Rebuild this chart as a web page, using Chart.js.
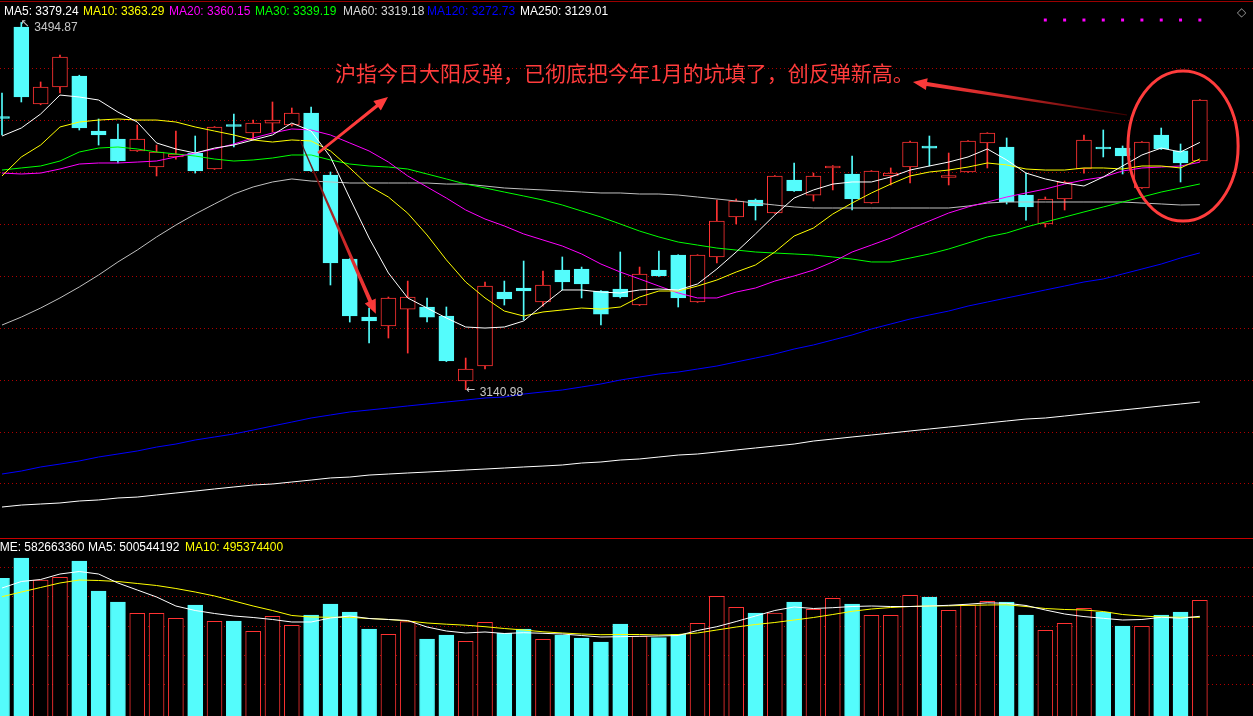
<!DOCTYPE html>
<html>
<head>
<meta charset="utf-8">
<title>沪指 日K</title>
<script src="https://cdn.jsdelivr.net/npm/chart.js@4.4.1/dist/chart.umd.min.js"></script>
<style>
    body { margin: 0; background: #000; overflow: hidden; }
    #wrap { position: relative; width: 1253px; height: 716px; background: #000; overflow: hidden;
            font-family: "Liberation Sans", Arial, sans-serif; font-size: 12px; }
    #priceChart { position: absolute; left: 0; top: 0; }
    #volChart { position: absolute; left: 0; top: 539px; }
    .topline { position: absolute; left: 0; top: 1px; width: 1253px; height: 1px; background: #9a0000; }
    .sep { position: absolute; left: 0; top: 538px; width: 1253px; height: 1px; background: #c80000; }
    .lg { position: absolute; line-height: 14px; white-space: nowrap; }
    .diamond { position: absolute; left: 1237px; top: 5px; color: #9a9a9a; font: 12px "DejaVu Sans", sans-serif; }
</style>
</head>
<body>
<div id="wrap">
    <canvas id="priceChart" width="1253" height="537"></canvas>
    <canvas id="volChart" width="1253" height="177"></canvas>
    <div class="topline"></div>
    <div class="sep"></div>
    <div class="diamond">◇</div>
    <div id="legends"></div>
</div>
<script>
// 沪指日K：63根K线，价格与均线值从图上读出

const opens = [
    3403.2, 3490.5, 3416.3, 3432.6, 3443.2, 3390.2, 3382.5, 3371.0, 3355.5, 3365.2,
    3369.0, 3353.6, 3395.5, 3388.3, 3397.9, 3396.0, 3407.6, 3347.8, 3266.9, 3210.9,
    3202.3, 3218.6, 3220.6, 3211.9, 3149.3, 3163.7, 3235.0, 3238.9, 3225.4, 3256.2,
    3257.2, 3236.0, 3237.9, 3222.5, 3256.2, 3270.7, 3225.4, 3268.8, 3307.3, 3323.7,
    3311.2, 3343.0, 3328.5, 3354.6, 3348.8, 3320.8, 3346.9, 3355.5, 3375.8, 3345.4,
    3350.7, 3378.7, 3374.8, 3328.5, 3300.6, 3324.7, 3353.6, 3374.8, 3373.8, 3335.3,
    3386.4, 3371.0, 3361.3
];
const highs = [
    3426.9, 3494.87, 3437.5, 3463.5, 3444.0, 3401.8, 3397.0, 3396.0, 3376.7, 3390.2,
    3385.4, 3394.5, 3406.6, 3400.8, 3418.2, 3412.4, 3413.4, 3350.7, 3267.2, 3219.6,
    3230.2, 3245.6, 3229.3, 3220.6, 3171.4, 3244.7, 3245.6, 3264.9, 3255.3, 3268.8,
    3259.1, 3236.5, 3273.6, 3259.1, 3274.6, 3271.0, 3271.0, 3323.7, 3324.7, 3324.7,
    3347.3, 3359.4, 3349.7, 3356.9, 3366.1, 3352.1, 3354.6, 3380.6, 3385.4, 3369.0,
    3381.0, 3388.6, 3383.5, 3349.7, 3326.6, 3342.0, 3386.4, 3391.2, 3375.8, 3380.0,
    3393.1, 3377.7, 3420.5
];
const lows = [
    3386.4, 3418.2, 3415.5, 3426.9, 3391.2, 3376.7, 3359.4, 3370.5, 3346.9, 3363.2,
    3349.7, 3353.2, 3374.8, 3381.6, 3389.3, 3395.0, 3351.2, 3241.8, 3206.1, 3185.9,
    3190.7, 3176.2, 3206.1, 3168.0, 3140.98, 3160.8, 3222.5, 3208.1, 3221.5, 3237.0,
    3229.3, 3203.2, 3229.3, 3222.0, 3250.0, 3220.6, 3225.0, 3263.0, 3300.6, 3304.4,
    3310.8, 3332.0, 3322.8, 3333.4, 3314.1, 3320.4, 3338.2, 3340.1, 3356.5, 3338.2,
    3350.3, 3354.6, 3319.9, 3304.4, 3297.7, 3314.1, 3349.7, 3365.2, 3348.8, 3334.9,
    3372.5, 3341.1, 3360.9
];
const closes = [
    3402.3, 3423.0, 3432.6, 3461.6, 3393.1, 3386.4, 3361.3, 3382.5, 3370.0, 3368.1,
    3351.7, 3394.1, 3394.6, 3397.9, 3400.8, 3407.6, 3351.7, 3263.0, 3211.9, 3207.1,
    3229.3, 3230.2, 3210.9, 3168.5, 3160.8, 3240.8, 3228.3, 3236.0, 3241.8, 3244.7,
    3242.8, 3213.8, 3230.2, 3252.4, 3250.5, 3229.3, 3270.7, 3303.5, 3322.8, 3317.9,
    3346.9, 3332.4, 3346.9, 3356.5, 3324.7, 3351.7, 3349.7, 3379.6, 3373.8, 3346.4,
    3380.6, 3388.3, 3321.8, 3317.0, 3324.7, 3341.1, 3381.6, 3372.9, 3366.1, 3379.6,
    3372.9, 3359.4, 3420.1
];

// 均线
const ma5 = [
    3385.4, 3393.1, 3406.6, 3424.9, 3423.0, 3420.1, 3408.5, 3398.9, 3378.7, 3372.9,
    3369.0, 3373.8, 3376.7, 3381.6, 3386.4, 3397.9, 3390.2, 3365.2, 3325.6, 3287.1,
    3253.4, 3229.3, 3219.6, 3210.0, 3201.3, 3200.3, 3201.3, 3207.1, 3222.5, 3237.0,
    3237.0, 3235.0, 3234.1, 3237.0, 3237.9, 3237.0, 3242.8, 3257.2, 3273.6, 3291.0,
    3309.3, 3325.6, 3333.4, 3339.1, 3341.1, 3341.1, 3345.9, 3352.6, 3356.5, 3360.3,
    3365.2, 3372.9, 3362.3, 3349.7, 3344.0, 3340.1, 3337.2, 3345.9, 3356.5, 3367.1,
    3373.8, 3370.0, 3379.24
];
const ma10 = [
    3346.9, 3365.2, 3376.7, 3394.1, 3398.9, 3400.8, 3401.8, 3400.8, 3400.8, 3398.9,
    3394.1, 3390.2, 3386.4, 3381.6, 3379.6, 3381.6, 3380.6, 3371.0, 3354.6, 3337.2,
    3326.6, 3311.0, 3290.0, 3266.0, 3244.7, 3229.3, 3216.7, 3211.9, 3215.8, 3217.7,
    3219.6, 3218.6, 3220.6, 3230.2, 3236.0, 3236.0, 3240.8, 3246.6, 3254.3, 3261.1,
    3273.6, 3289.0, 3296.7, 3310.2, 3320.8, 3330.5, 3339.1, 3346.9, 3350.7, 3352.6,
    3355.5, 3359.4, 3357.5, 3353.6, 3352.6, 3352.6, 3354.6, 3354.6, 3353.6, 3356.5,
    3356.5, 3354.6, 3363.29
];
const ma20 = [
    3349.7, 3348.8, 3349.7, 3353.6, 3358.4, 3359.4, 3359.4, 3360.3, 3361.3, 3365.2,
    3369.0, 3372.9, 3377.7, 3383.5, 3388.3, 3392.2, 3391.2, 3386.4, 3378.7, 3371.0,
    3360.3, 3346.9, 3336.3, 3325.6, 3314.1, 3305.4, 3298.7, 3291.0, 3285.2, 3279.4,
    3271.7, 3262.0, 3254.3, 3247.6, 3240.8, 3234.1, 3229.3, 3229.3, 3235.0, 3238.9,
    3245.6, 3250.5, 3256.2, 3264.0, 3273.6, 3280.3, 3287.1, 3295.8, 3303.5, 3311.2,
    3317.0, 3321.8, 3326.6, 3330.5, 3334.3, 3339.1, 3343.0, 3345.9, 3351.7, 3354.6,
    3355.5, 3356.5, 3360.15
];
const ma30 = [
    3352.6, 3354.6, 3356.5, 3361.3, 3370.0, 3373.8, 3374.8, 3372.9, 3370.0, 3368.1,
    3366.1, 3363.2, 3361.3, 3362.3, 3364.2, 3367.1, 3367.1, 3362.3, 3358.4, 3356.5,
    3355.5, 3353.6, 3348.8, 3344.0, 3339.1, 3335.3, 3331.4, 3327.6, 3323.7, 3318.9,
    3313.1, 3307.3, 3300.6, 3293.8, 3288.1, 3283.2, 3280.3, 3277.4, 3275.5, 3273.6,
    3272.6, 3271.7, 3270.7, 3268.8, 3266.8, 3264.0, 3264.0, 3267.8, 3271.7, 3276.5,
    3282.3, 3288.1, 3291.9, 3297.7, 3302.5, 3307.3, 3312.2, 3317.0, 3321.8, 3326.6,
    3331.4, 3335.3, 3339.19
];
const ma60 = [
    3203.2, 3210.9, 3219.6, 3229.3, 3239.9, 3251.4, 3264.0, 3275.5, 3288.1, 3299.6,
    3310.2, 3319.9, 3329.5, 3336.3, 3341.1, 3344.0, 3342.0, 3341.1, 3340.1, 3340.1,
    3340.1, 3340.1, 3340.1, 3339.1, 3339.1, 3337.2, 3335.3, 3334.3, 3333.4, 3332.4,
    3331.4, 3330.5, 3330.5, 3329.5, 3329.5, 3328.5, 3326.6, 3324.7, 3322.8, 3320.8,
    3318.9, 3317.0, 3316.0, 3316.0, 3316.0, 3316.0, 3316.0, 3316.0, 3316.0, 3316.0,
    3317.9, 3320.8, 3321.8, 3321.8, 3321.8, 3321.8, 3321.8, 3321.8, 3321.8, 3320.8,
    3319.9, 3318.9, 3319.18
];
const ma120 = [
    3059.6, 3062.5, 3066.4, 3069.2, 3072.2, 3076.0, 3078.9, 3081.8, 3085.6, 3088.5,
    3092.4, 3095.3, 3098.2, 3102.0, 3105.9, 3109.7, 3113.6, 3116.5, 3119.4, 3121.3,
    3123.2, 3125.2, 3127.1, 3129.0, 3130.9, 3132.9, 3133.8, 3136.7, 3138.7, 3140.6,
    3143.5, 3146.4, 3150.2, 3153.1, 3156.0, 3157.9, 3160.8, 3163.7, 3167.6, 3171.4,
    3175.3, 3180.1, 3184.0, 3188.8, 3193.6, 3199.4, 3204.2, 3209.0, 3212.9, 3216.7,
    3221.5, 3225.4, 3229.3, 3233.1, 3237.0, 3240.8, 3244.7, 3247.6, 3252.4, 3257.2,
    3262.0, 3267.8, 3272.73
];
const ma250 = [
    3027.8, 3029.7, 3030.7, 3031.7, 3033.6, 3034.6, 3036.5, 3037.4, 3039.4, 3041.3,
    3043.2, 3045.2, 3047.1, 3049.0, 3050.0, 3051.9, 3053.8, 3055.8, 3056.7, 3058.6,
    3059.6, 3060.6, 3061.5, 3062.5, 3063.5, 3064.4, 3065.4, 3066.4, 3067.3, 3068.3,
    3070.2, 3071.2, 3073.1, 3074.1, 3076.0, 3077.9, 3078.9, 3080.8, 3082.8, 3084.7,
    3086.6, 3088.5, 3091.4, 3093.3, 3095.3, 3097.2, 3099.1, 3101.1, 3103.0, 3104.9,
    3106.8, 3108.8, 3110.7, 3112.6, 3113.6, 3115.5, 3117.5, 3119.4, 3121.3, 3123.2,
    3125.2, 3127.1, 3129.01
];

// 成交量（百万）
const volume = [
    695.4, 799.5, 686.6, 700.5, 784.1, 630.2, 573.8, 515.9, 515.9, 490.2,
    558.4, 474.9, 476.4, 423.6, 500.5, 454.3, 507.2, 563.6, 522.5, 435.4,
    408.2, 472.8, 384.1, 404.6, 372.3, 469.7, 413.3, 435.4, 382.6, 404.6,
    389.2, 368.7, 461.0, 399.5, 390.8, 408.2, 464.6, 603.1, 546.6, 517.4,
    517.4, 573.8, 536.4, 592.8, 563.6, 505.6, 505.6, 608.2, 599.5, 531.3,
    558.4, 577.4, 573.8, 507.2, 428.7, 464.6, 541.5, 522.5, 450.8, 449.2,
    507.2, 522.5, 582.66336
];
const volMa5 = [
    645.6, 678.9, 689.2, 717.4, 730.2, 717.4, 671.3, 635.4, 599.5, 553.3,
    530.2, 514.9, 502.0, 494.3, 484.1, 471.3, 471.3, 491.8, 502.0, 489.2,
    484.1, 479.0, 445.6, 425.1, 414.9, 420.0, 412.3, 416.4, 413.3, 409.7,
    402.0, 394.3, 395.9, 397.9, 399.5, 402.0, 427.7, 447.2, 473.8, 502.0,
    530.2, 548.2, 540.5, 544.6, 550.7, 553.3, 550.7, 550.7, 553.3, 556.9,
    562.5, 569.7, 567.2, 555.9, 532.8, 512.3, 499.0, 490.2, 481.5, 484.1,
    495.4, 490.7, 500.544192
];
const volMa10 = [
    601.0, 625.1, 648.2, 671.3, 686.6, 684.1, 678.9, 668.7, 658.4, 643.1,
    625.1, 604.6, 579.0, 553.3, 530.2, 504.6, 496.9, 495.4, 495.4, 489.2,
    484.1, 476.4, 466.1, 460.0, 454.9, 447.2, 437.9, 430.2, 421.0, 414.9,
    409.7, 406.1, 407.2, 407.2, 404.6, 407.2, 414.9, 430.2, 445.6, 458.4,
    468.7, 481.5, 494.3, 509.7, 526.1, 537.9, 545.6, 550.7, 553.3, 554.3,
    556.9, 558.4, 559.5, 550.7, 540.5, 535.4, 532.8, 525.1, 509.7, 502.0,
    496.9, 495.4, 495.3744
];

// 网格线位置
const priceGrid = [3050, 3100, 3150, 3200, 3250, 3300, 3350, 3400, 3450];
const volGrid = [150, 300, 450, 600, 750];

// 顶部紫色信号点
const signalDots = [54, 55, 56, 57, 58, 59, 60, 61, 62];
const signalLevel = 3497.2;

const RED = '#ff3232';
const CYAN = '#54fcfc';
const GRID = '#b00000';
const NOTE_RED = '#ff3c3c';

const X_MIN = -0.1035;
const X_MAX = 64.75;

const isUp = closes.map((c, i) => c >= opens[i]);

function xy(arr) {
    return arr.map((v, i) => ({ x: i, y: v }));
}

function lineSet(arr, color) {
    return {
        type: 'line',
        data: xy(arr),
        borderColor: color,
        borderWidth: 1,
        pointRadius: 0,
        tension: 0,
        order: 1
    };
}

function hiddenY(min, max, grid) {
    return {
        min: min,
        max: max,
        ticks: { display: false },
        grid: { color: GRID, lineWidth: 1, drawTicks: false },
        border: { display: false, dash: [1, 3] },
        afterBuildTicks: (s) => { s.ticks = grid.map(v => ({ value: v })); },
        afterFit: (s) => { s.width = 0; }
    };
}

const hiddenX = {
    type: 'linear',
    display: false,
    offset: false,
    min: X_MIN,
    max: X_MAX,
    grid: { offset: false }
};

// Annotations in data units
const notes = {
    caption: { text: '沪指今日大阳反弹，已彻底把今年1月的坑填了，创反弹新高。', x: 17.24, y: 3446.1 },
    arrows: [
        { from: [16.36, 3369.0], to: [19.98, 3423.0], w0: 2.5, w1: 3.5, fade: false },
        { from: [15.42, 3381.6], to: [19.35, 3214.0], w0: 1, w1: 4, fade: true },
        { from: [58.23, 3405.7], to: [47.15, 3437.5], w0: 1, w1: 4, fade: true }
    ],
    ring: { x: 61.13, y: 3375.8, rx: 2.85, ry: 72.3 }
};

function drawArrow(ctx, x1, y1, x2, y2, w0, w1, fade) {
    const a = Math.atan2(y2 - y1, x2 - x1);
    const ux = Math.cos(a), uy = Math.sin(a);
    const nx = -uy, ny = ux;
    const headLen = 14, headHalf = 6;
    const bx = x2 - ux * headLen, by = y2 - uy * headLen;
    let fill = NOTE_RED;
    if (fade) {
        fill = ctx.createLinearGradient(x1, y1, x2, y2);
        fill.addColorStop(0, 'rgba(70,0,0,0.9)');
        fill.addColorStop(0.55, '#c82626');
        fill.addColorStop(1, NOTE_RED);
    }
    ctx.fillStyle = fill;
    ctx.beginPath();
    ctx.moveTo(x1 + nx * w0 / 2, y1 + ny * w0 / 2);
    ctx.lineTo(bx + nx * w1 / 2, by + ny * w1 / 2);
    ctx.lineTo(bx + nx * headHalf, by + ny * headHalf);
    ctx.lineTo(x2, y2);
    ctx.lineTo(bx - nx * headHalf, by - ny * headHalf);
    ctx.lineTo(bx - nx * w1 / 2, by - ny * w1 / 2);
    ctx.lineTo(x1 - nx * w0 / 2, y1 - ny * w0 / 2);
    ctx.closePath();
    ctx.fill();
}

const priceNotes = {
    id: 'priceNotes',
    afterDatasetsDraw(chart) {
        const { ctx, scales: { x, y } } = chart;
        ctx.save();

        // highest / lowest marks
        const hi = Math.max(...highs), lo = Math.min(...lows);
        const hiIdx = highs.indexOf(hi), loIdx = lows.indexOf(lo);
        ctx.fillStyle = '#c8c8c8';
        ctx.textBaseline = 'middle';
        ctx.font = '11px "DejaVu Sans"';
        ctx.fillText('↖', x.getPixelForValue(hiIdx) - 1, y.getPixelForValue(hi) + 2);
        ctx.fillText('←', x.getPixelForValue(loIdx), y.getPixelForValue(lo) + 1);
        ctx.font = '12px "Liberation Sans"';
        ctx.fillText(hi.toFixed(2), x.getPixelForValue(hiIdx) + 13, y.getPixelForValue(hi) + 5);
        ctx.fillText(lo.toFixed(2), x.getPixelForValue(loIdx) + 14, y.getPixelForValue(lo) + 3);

        // caption
        ctx.fillStyle = NOTE_RED;
        ctx.font = '21px "Noto Sans CJK SC"';
        ctx.fillText(notes.caption.text, x.getPixelForValue(notes.caption.x), y.getPixelForValue(notes.caption.y));

        // arrows
        notes.arrows.forEach(a => {
            drawArrow(ctx,
                x.getPixelForValue(a.from[0]), y.getPixelForValue(a.from[1]),
                x.getPixelForValue(a.to[0]), y.getPixelForValue(a.to[1]),
                a.w0, a.w1, a.fade);
        });

        // circle round the last candles
        const r = notes.ring;
        const cx = x.getPixelForValue(r.x), cy = y.getPixelForValue(r.y);
        ctx.strokeStyle = NOTE_RED;
        ctx.lineWidth = 3;
        ctx.beginPath();
        ctx.ellipse(cx, cy, Math.abs(x.getPixelForValue(r.x + r.rx) - cx), Math.abs(y.getPixelForValue(r.y + r.ry) - cy), 0, 0, Math.PI * 2);
        ctx.stroke();

        ctx.restore();
    }
};

// Price chart
new Chart(document.getElementById('priceChart'), {
    type: 'bar',
    data: {
        datasets: [
            {
                type: 'line',
                data: signalDots.map(i => ({ x: i, y: signalLevel })),
                showLine: false,
                pointStyle: 'rect',
                pointRadius: 2.1,
                pointBackgroundColor: '#ff00ff',
                pointBorderWidth: 0,
                order: 0
            },
            lineSet(ma5, '#ffffff'),
            lineSet(ma10, '#ffff00'),
            lineSet(ma20, '#ff00ff'),
            lineSet(ma30, '#00ff00'),
            lineSet(ma60, '#c0c0c0'),
            lineSet(ma120, '#0000ff'),
            lineSet(ma250, '#ffffff'),
            {
                // candle bodies
                data: opens.map((o, i) => ({ x: i, y: [o, closes[i]] })),
                backgroundColor: isUp.map(u => u ? '#000000' : CYAN),
                borderColor: isUp.map(u => u ? RED : CYAN),
                borderWidth: 1,
                borderSkipped: false,
                barThickness: 15,
                minBarLength: 2,
                grouped: false,
                order: 2
            },
            {
                // wicks
                data: lows.map((l, i) => ({ x: i, y: [l, highs[i]] })),
                backgroundColor: isUp.map(u => u ? RED : CYAN),
                borderWidth: 0,
                barThickness: 1,
                grouped: false,
                order: 3
            }
        ]
    },
    options: {
        responsive: false,
        animation: false,
        events: [],
        layout: { padding: 0, autoPadding: false },
        plugins: { legend: { display: false }, tooltip: { enabled: false } },
        scales: {
            x: hiddenX,
            y: hiddenY(2998.9, 3516.5, priceGrid)
        }
    },
    plugins: [priceNotes]
});

// Volume chart
new Chart(document.getElementById('volChart'), {
    type: 'bar',
    data: {
        datasets: [
            lineSet(volMa5, '#ffffff'),
            lineSet(volMa10, '#ffff00'),
            {
                data: xy(volume),
                backgroundColor: isUp.map(u => u ? '#000000' : CYAN),
                borderColor: isUp.map(u => u ? RED : CYAN),
                borderWidth: 1,
                borderSkipped: false,
                barThickness: 15,
                base: -40,
                grouped: false,
                order: 2
            }
        ]
    },
    options: {
        responsive: false,
        animation: false,
        events: [],
        layout: { padding: 0, autoPadding: false },
        plugins: { legend: { display: false }, tooltip: { enabled: false } },
        scales: {
            x: hiddenX,
            y: hiddenY(-10.8, 896.9, volGrid)
        }
    }
});

// Legend rows
const last = closes.length - 1;
const legendItems = [
    { text: `MA5: ${ma5[last].toFixed(2)}`, color: '#ffffff', left: 4, top: 4 },
    { text: `MA10: ${ma10[last].toFixed(2)}`, color: '#ffff00', left: 83, top: 4 },
    { text: `MA20: ${ma20[last].toFixed(2)}`, color: '#ff00ff', left: 169, top: 4 },
    { text: `MA30: ${ma30[last].toFixed(2)}`, color: '#00ff00', left: 255, top: 4 },
    { text: `MA60: ${ma60[last].toFixed(2)}`, color: '#d8d8d8', left: 343, top: 4 },
    { text: `MA120: ${ma120[last].toFixed(2)}`, color: '#0000ff', left: 427, top: 4 },
    { text: `MA250: ${ma250[last].toFixed(2)}`, color: '#ffffff', left: 520, top: 4 },
    { text: `VOLUME: ${Math.round(volume[last] * 1e6)}`, color: '#ffffff', left: -33, top: 540 },
    { text: `MA5: ${Math.round(volMa5[last] * 1e6)}`, color: '#ffffff', left: 88, top: 540 },
    { text: `MA10: ${Math.round(volMa10[last] * 1e6)}`, color: '#ffff00', left: 185, top: 540 }
];
document.getElementById('legends').innerHTML = legendItems.map(it =>
    `<div class="lg" style="left:${it.left}px;top:${it.top}px;color:${it.color}">${it.text}</div>`
).join('');
</script>
</body>
</html>
